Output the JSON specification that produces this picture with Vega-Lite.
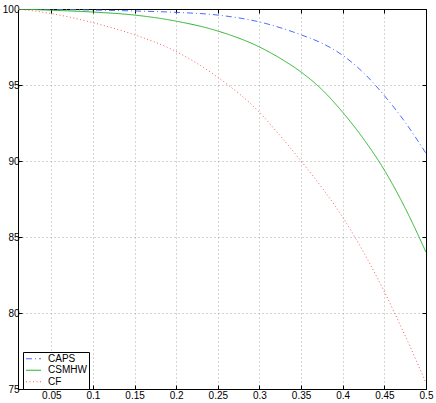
{
  "$schema": "https://vega.github.io/schema/vega-lite/v6.json",
  "autosize": "none",
  "padding": {"left": 18, "top": 9, "right": 10, "bottom": 14},
  "width": 408,
  "height": 380,
  "background": "white",
  "config": {
    "view": {"stroke": "black", "strokeWidth": 1},
    "font": "Liberation Sans",
    "axis": {"labelFont": "Liberation Sans", "labelFontSize": 10, "labelColor": "black", "domainColor": "black", "tickColor": "black", "title": null},
    "legend": {"strokeColor": "black", "fillColor": "white", "padding": 2,
      "symbolType": "stroke", "symbolSize": 225, "symbolStrokeWidth": 1.2, "clipHeight": 9.5,
      "labelFontSize": 10, "labelFont": "Liberation Sans", "labelColor": "black", "rowPadding": 0.5, "labelOffset": 6}
  },
  "data": {"values": [
    {"x": 0.01, "y": 100, "s": "CAPS"},
    {"x": 0.05, "y": 99.98, "s": "CAPS"},
    {"x": 0.1, "y": 99.93, "s": "CAPS"},
    {"x": 0.15, "y": 99.87, "s": "CAPS"},
    {"x": 0.2, "y": 99.78, "s": "CAPS"},
    {"x": 0.25, "y": 99.6, "s": "CAPS"},
    {"x": 0.3, "y": 99.15, "s": "CAPS"},
    {"x": 0.35, "y": 98.3, "s": "CAPS"},
    {"x": 0.375, "y": 97.75, "s": "CAPS"},
    {"x": 0.4, "y": 96.95, "s": "CAPS"},
    {"x": 0.425, "y": 95.8, "s": "CAPS"},
    {"x": 0.45, "y": 94.3, "s": "CAPS"},
    {"x": 0.475, "y": 92.55, "s": "CAPS"},
    {"x": 0.5, "y": 90.5, "s": "CAPS"},
    {"x": 0.01, "y": 100, "s": "CSMHW"},
    {"x": 0.05, "y": 99.92, "s": "CSMHW"},
    {"x": 0.1, "y": 99.8, "s": "CSMHW"},
    {"x": 0.15, "y": 99.6, "s": "CSMHW"},
    {"x": 0.2, "y": 99.2, "s": "CSMHW"},
    {"x": 0.25, "y": 98.55, "s": "CSMHW"},
    {"x": 0.3, "y": 97.5, "s": "CSMHW"},
    {"x": 0.325, "y": 96.75, "s": "CSMHW"},
    {"x": 0.35, "y": 95.85, "s": "CSMHW"},
    {"x": 0.375, "y": 94.7, "s": "CSMHW"},
    {"x": 0.4, "y": 93.2, "s": "CSMHW"},
    {"x": 0.425, "y": 91.45, "s": "CSMHW"},
    {"x": 0.45, "y": 89.4, "s": "CSMHW"},
    {"x": 0.475, "y": 86.9, "s": "CSMHW"},
    {"x": 0.5, "y": 84.0, "s": "CSMHW"},
    {"x": 0.01, "y": 100, "s": "CF"},
    {"x": 0.05, "y": 99.7, "s": "CF"},
    {"x": 0.1, "y": 99.1, "s": "CF"},
    {"x": 0.15, "y": 98.3, "s": "CF"},
    {"x": 0.2, "y": 97.2, "s": "CF"},
    {"x": 0.25, "y": 95.5, "s": "CF"},
    {"x": 0.3, "y": 93.2, "s": "CF"},
    {"x": 0.325, "y": 91.65, "s": "CF"},
    {"x": 0.35, "y": 90.0, "s": "CF"},
    {"x": 0.375, "y": 88.25, "s": "CF"},
    {"x": 0.4, "y": 86.3, "s": "CF"},
    {"x": 0.425, "y": 84.0, "s": "CF"},
    {"x": 0.45, "y": 81.4, "s": "CF"},
    {"x": 0.475, "y": 78.5, "s": "CF"},
    {"x": 0.5, "y": 75.4, "s": "CF"}
  ]},
  "layer": [
    {
      "mark": {"type": "line", "strokeWidth": 1, "interpolate": "monotone", "clip": true},
      "encoding": {
        "x": {"field": "x", "type": "quantitative",
          "scale": {"domain": [0.01, 0.5], "nice": false, "zero": false},
          "axis": {"orient": "bottom", "values": [0.05, 0.1, 0.15, 0.2, 0.25, 0.3, 0.35, 0.4, 0.45, 0.5], "format": "~g",
            "grid": true, "gridDash": [1, 3], "gridColor": "#a8a8a8", "gridWidth": 1,
            "tickSize": -4, "labelPadding": 5, "labelFlush": false}},
        "y": {"field": "y", "type": "quantitative",
          "scale": {"domain": [75, 100], "nice": false, "zero": false},
          "axis": {"orient": "left", "values": [75, 80, 85, 90, 95, 100],
            "grid": true, "gridDash": [1, 3], "gridColor": "#a8a8a8", "gridWidth": 1,
            "tickSize": -4, "labelPadding": 3, "labelFlush": false}},
        "color": {"field": "s", "type": "nominal",
          "scale": {"domain": ["CAPS", "CSMHW", "CF"], "range": ["#4a6cff", "#2bb52b", "#ff5a5a"]},
          "legend": {"title": null, "orient": "none", "legendX": 5, "legendY": 343}},
        "strokeDash": {"field": "s", "type": "nominal",
          "scale": {"domain": ["CAPS", "CSMHW", "CF"], "range": [[6, 3, 1, 3], [1, 0], [1, 2.5]]},
          "legend": {"title": null, "orient": "none", "legendX": 5, "legendY": 343}}
      }
    },
    {
      "mark": {"type": "point", "opacity": 0},
      "encoding": {
        "x": {"field": "x", "type": "quantitative",
          "scale": {"domain": [0.01, 0.5], "nice": false, "zero": false},
          "axis": {"orient": "top", "values": [0.05, 0.1, 0.15, 0.2, 0.25, 0.3, 0.35, 0.4, 0.45, 0.5], "labels": false, "grid": false, "tickSize": -4}},
        "y": {"field": "y", "type": "quantitative",
          "scale": {"domain": [75, 100], "nice": false, "zero": false},
          "axis": {"orient": "right", "values": [75, 80, 85, 90, 95, 100], "labels": false, "grid": false, "tickSize": -4}}
      }
    }
  ],
  "resolve": {"axis": {"x": "independent", "y": "independent"}}
}
